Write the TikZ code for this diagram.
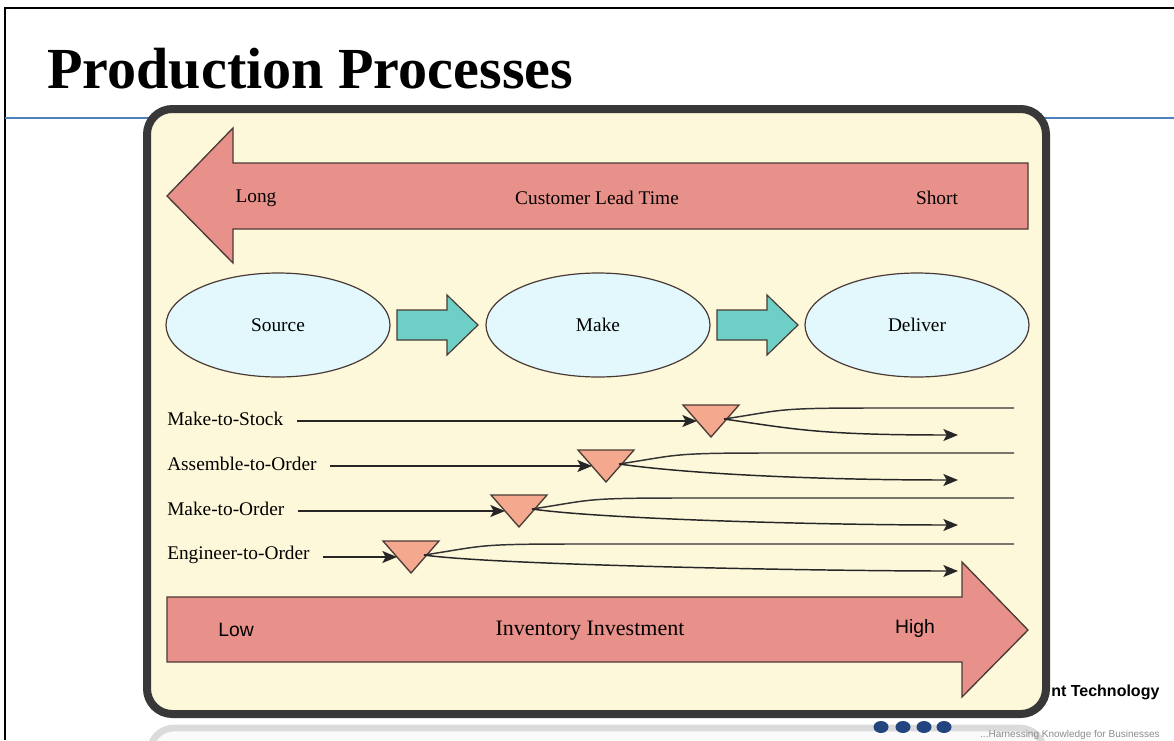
\documentclass[tikz,border=0pt]{standalone}
\usepackage{fontspec}
\setmainfont{Liberation Serif}
\newfontfamily\sansf{Liberation Sans}
\usetikzlibrary{arrows.meta,shapes.geometric}
\definecolor{salmon}{HTML}{E8908A}
\definecolor{cream}{HTML}{FEF8DA}
\definecolor{lcyan}{HTML}{E2F8FC}
\definecolor{teal2}{HTML}{6ECFC6}
\definecolor{peach}{HTML}{F4A98E}
\definecolor{framec}{HTML}{383838}
\definecolor{blueline}{HTML}{4F81BD}
\definecolor{navy}{HTML}{22447F}
\definecolor{outl}{HTML}{4A3A36}
\tikzset{
  bigarrow/.style={fill=salmon, draw=outl, line width=1pt},
  tealarrow/.style={fill=teal2, draw=outl, line width=0.9pt},
  proc/.style={ellipse, fill=lcyan, draw=outl, line width=0.9pt, minimum width=168pt, minimum height=78pt, font=\fontsize{14.5}{16}\selectfont},
  lbl/.style={font=\fontsize{14.5}{16}\selectfont, inner sep=0pt},
  slbl/.style={font=\sansf\fontsize{14.5}{16}\selectfont, inner sep=0pt},
  tri/.style={fill=peach, draw=outl, line width=1pt},
  conn/.style={draw=black!85, line width=1.1pt, -{Stealth[length=11pt,width=9pt,inset=2.5pt]}},
  flow/.style={draw=black!80, line width=1.1pt},
}
\begin{document}
\begin{tikzpicture}[x=0.75pt,y=-0.75pt]
\useasboundingbox (0,0) rectangle (1174,740);
\fill[white] (0,0) rectangle (1174,740);
% slide border and rule
\draw[line width=1.6pt] (5,740) -- (5,8) -- (1174,8);
\draw[blueline, line width=1.6pt] (5,118) -- (1174,118);
% title
\node[anchor=base west, inner sep=0pt, font=\bfseries\fontsize{43.6}{50}\selectfont] (title) at (47,88) {Production Processes};
% reflection
\draw[black!14, line width=5pt, fill=black!2, rounded corners=18pt] (150,728) rectangle (1044,790);
% footer texts
\node[anchor=west, inner sep=0pt, font=\sansf\bfseries\fontsize{12}{14}\selectfont] (brand) at (1051,692) {nt Technology};
\node[anchor=east, inner sep=0pt, text=black!45, font=\sansf\fontsize{7.5}{9}\selectfont] (tag) at (1160,735) {...Harnessing Knowledge for Businesses};
% dots
\foreach \dx [count=\k] in {881,903,924,944} {\fill[navy] (\dx,727) ellipse (7.5 and 6) coordinate (dot\k);}
% frame
\draw[framec, line width=6pt, fill=cream, rounded corners=19pt] (147,109) rectangle (1046,714);
% top arrow
\draw[bigarrow] (167,196) -- (233,128) -- (233,163) -- (1028,163) -- (1028,229) -- (233,229) -- (233,263) -- cycle;
\node[lbl] (long) at (256,198) {Long};
\node[lbl] (clt) at (597,198) {Customer Lead Time};
\node[lbl] (short) at (937,198) {Short};
% processes
\node[proc] (src) at (278,325) {Source};
\node[proc] (make) at (598,325) {Make};
\node[proc] (dlv) at (917,325) {Deliver};
\draw[tealarrow] (397,310) -- (447,310) -- (447,295) -- (478,325) -- (447,355) -- (447,340) -- (397,340) -- cycle;
\draw[tealarrow] (717,310) -- (767,310) -- (767,295) -- (798,325) -- (767,355) -- (767,340) -- (717,340) -- cycle;
% rows
\foreach \i/\L/\T/\lab/\nm in {1/683/405/Make-to-Stock/mts, 2/578/450/Assemble-to-Order/ato, 3/491/495/Make-to-Order/mto, 4/383/541/Engineer-to-Order/eto} {
  \node[lbl, anchor=west] (\nm) at (167,\T+14) {\lab};
  \draw[tri] (\L,\T) -- (\L+56,\T) -- (\L+28,\T+32) -- cycle;
  \coordinate (in\i) at (\L+14,\T+16);
  \coordinate (out\i) at (\L+41,\T+14);
  \coordinate (up\i) at (1014,\T+3);
  \coordinate (dn\i) at (958,\T+30);
  \draw[conn, shorten <=10pt] (\nm.east |- in\i) -- (in\i);
  \draw[flow] (out\i) .. controls +(60,-9) and +(-100,0) .. (\L+190,\T+3) -- (up\i);
  \draw[conn] (out\i) .. controls +(70,10) and +(-140,0) .. (dn\i);
}
% bottom arrow
\draw[bigarrow] (167,597) -- (962,597) -- (962,562) -- (1028,630) -- (962,697) -- (962,662) -- (167,662) -- cycle;
\node[slbl] (low) at (236,630) {Low};
\node[lbl, font=\fontsize{16.5}{18}\selectfont] (inv) at (590,631) {Inventory Investment};
\node[slbl] (high) at (915,628) {High};
\end{tikzpicture}
\end{document}
